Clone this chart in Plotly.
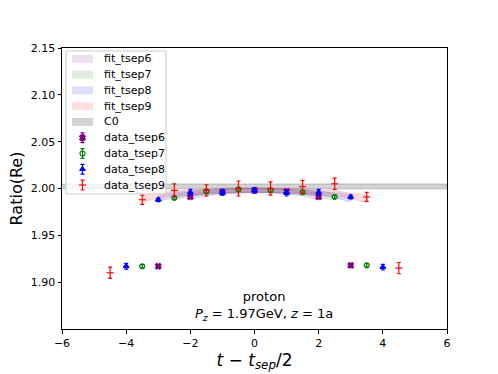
import plotly.graph_objects as go

# data points: t - tsep/2, value, error
x6 = [-3, -2, -1, 0, 1, 2, 3]
y6 = [1.917, 1.991, 1.996, 1.998, 1.997, 1.991, 1.918]
e6 = [0.0015, 0.0015, 0.0015, 0.0015, 0.0015, 0.0015, 0.0015]

x7 = [-3.5, -2.5, -1.5, -0.5, 0.5, 1.5, 2.5, 3.5]
y7 = [1.917, 1.990, 1.997, 1.999, 1.998, 1.996, 1.991, 1.918]
e7 = [0.0017, 0.0017, 0.0017, 0.0017, 0.0017, 0.0017, 0.0017, 0.0017]

x8 = [-4, -3, -2, -1, 0, 1, 2, 3, 4]
y8 = [1.917, 1.988, 1.996, 1.996, 1.998, 1.995, 1.996, 1.991, 1.916]
e8 = [0.003, 0.002, 0.003, 0.003, 0.003, 0.003, 0.003, 0.002, 0.003]

x9 = [-4.5, -3.5, -2.5, -1.5, -0.5, 0.5, 1.5, 2.5, 3.5, 4.5]
y9 = [1.910, 1.988, 1.998, 1.998, 2.000, 2.000, 2.002, 2.005, 1.991, 1.915]
e9 = [0.006, 0.005, 0.007, 0.006, 0.008, 0.007, 0.0066, 0.006, 0.0048, 0.006]

# fit bands (centre and half width)
f6_x = [-2, -1.5, -1, -0.5, 0, 0.5, 1, 1.5, 2]
f6_m = [1.9915, 1.9945, 1.9962, 1.9972, 1.9975, 1.9972, 1.9962, 1.9945, 1.9915]
f6_e = [0.0025, 0.0024, 0.0023, 0.0023, 0.0023, 0.0023, 0.0023, 0.0024, 0.0025]

f7_x = [-2.5, -2, -1.5, -1, -0.5, 0, 0.5, 1, 1.5, 2, 2.5]
f7_m = [1.991, 1.994, 1.996, 1.9972, 1.9978, 1.998, 1.9978, 1.9972, 1.996, 1.994, 1.991]
f7_e = [0.0026, 0.0025, 0.0024, 0.0023, 0.0023, 0.0023, 0.0023, 0.0023, 0.0024, 0.0025, 0.0026]

f8_x = [-3, -2.5, -2, -1.5, -1, -0.5, 0, 0.5, 1, 1.5, 2, 2.5, 3]
f8_m = [1.9895, 1.9928, 1.995, 1.9965, 1.9975, 1.998, 1.9982, 1.998, 1.9975, 1.9965, 1.995, 1.9928, 1.9895]
f8_e = [0.0028, 0.0026, 0.0025, 0.0024, 0.0023, 0.0023, 0.0023, 0.0023, 0.0023, 0.0024, 0.0025, 0.0026, 0.0028]

f9_x = [-3.5, -3, -2.5, -2, -1.5, -1, -0.5, 0, 0.5, 1, 1.5, 2, 2.5, 3, 3.5]
f9_m = [1.9888, 1.9922, 1.9946, 1.9962, 1.9974, 1.998, 1.9984, 1.9985, 1.9984, 1.998, 1.9974, 1.9962, 1.9946, 1.9922, 1.9888]
f9_e = [0.003, 0.0028, 0.0026, 0.0025, 0.0024, 0.0024, 0.0023, 0.0023, 0.0023, 0.0024, 0.0024, 0.0025, 0.0026, 0.0028, 0.003]

c0_x = [-6, 6]
c0_val = 2.0022
c0_err = 0.0026

band_names = ["fit_tsep6", "fit_tsep7", "fit_tsep8", "fit_tsep9", "C0"]
band_fills = ["rgba(128,0,128,0.13)", "rgba(0,128,0,0.13)", "rgba(0,0,255,0.13)",
              "rgba(255,0,0,0.13)", "rgba(128,128,128,0.35)"]
data_names = ["data_tsep6", "data_tsep7", "data_tsep8", "data_tsep9"]
data_colors = ["purple", "green", "blue", "red"]
data_symbols = ["x", "circle-open", "triangle-up", "line-ew-open"]

fig = go.Figure()

bands = [(f6_x, f6_m, f6_e), (f7_x, f7_m, f7_e), (f8_x, f8_m, f8_e), (f9_x, f9_m, f9_e)]
edge_cols = ["rgba(128,0,128,0.18)", "rgba(0,128,0,0.18)", "rgba(0,0,255,0.18)", "rgba(255,0,0,0.18)"]
for (fx, fm, fe), col, ecol in zip(bands, band_fills, edge_cols):
    upper = [m + e for m, e in zip(fm, fe)]
    lower = [m - e for m, e in zip(fm, fe)]
    fig.add_trace(go.Scatter(
        x=fx + fx[::-1], y=upper + lower[::-1],
        fill="toself", fillcolor=col, mode="lines",
        line=dict(color=ecol, width=0.8, shape="spline"),
        showlegend=False, hoverinfo="skip",
    ))

fig.add_trace(go.Scatter(
    x=c0_x + c0_x[::-1],
    y=[c0_val + c0_err] * 2 + [c0_val - c0_err] * 2,
    fill="toself", fillcolor=band_fills[4],
    line=dict(color="rgba(100,100,100,0.45)", width=0.8),
    mode="lines", showlegend=False, hoverinfo="skip",
))

series = [(x6, y6, e6), (x7, y7, e7), (x8, y8, e8), (x9, y9, e9)]
for (xs, ys, es), col, sym in zip(series, data_colors, data_symbols):
    fig.add_trace(go.Scatter(
        x=xs, y=ys, mode="markers", showlegend=False,
        marker=dict(color=col, symbol=sym, size=5, line=dict(color=col, width=1.2)),
        error_y=dict(type="data", array=es, color=col, thickness=1.2, width=2),
    ))

# hand-made legend (matplotlib style) on an overlay axis in plot-fraction units
L, R, T, B = 62, 447, 48, 333


def fx_(p):
    return (p - L) / (R - L)


def fy_(p):
    return (B - p) / (B - T)


rows = [59 + 16 * i for i in range(9)]
bx0, bx1, by0, by1 = fx_(66), fx_(166), fy_(51), fy_(196)
fig.add_trace(go.Scatter(
    x=[bx0, bx1, bx1, bx0, bx0], y=[by0, by0, by1, by1, by0],
    xaxis="x2", yaxis="y2", mode="lines", fill="toself",
    fillcolor="rgba(255,255,255,0.8)", line=dict(color="#cccccc", width=1),
    showlegend=False, hoverinfo="skip",
))
for i, (name, col) in enumerate(zip(band_names, band_fills)):
    r = rows[i]
    px0, px1 = fx_(72), fx_(93)
    py0, py1 = fy_(r - 4), fy_(r + 4)
    fig.add_trace(go.Scatter(
        x=[px0, px1, px1, px0, px0], y=[py0, py0, py1, py1, py0],
        xaxis="x2", yaxis="y2", mode="none", fill="toself", fillcolor=col,
        showlegend=False, hoverinfo="skip",
    ))
for j, (name, col, sym) in enumerate(zip(data_names, data_colors, data_symbols)):
    r = rows[5 + j]
    fig.add_trace(go.Scatter(
        x=[fx_(82.5)], y=[fy_(r)], xaxis="x2", yaxis="y2", mode="markers",
        marker=dict(color=col, symbol=sym, size=5, line=dict(color=col, width=1.2)),
        error_y=dict(type="constant", value=5 / (B - T), color=col, thickness=1.2, width=2),
        showlegend=False, hoverinfo="skip",
    ))
for i, name in enumerate(band_names + data_names):
    fig.add_annotation(x=fx_(102), y=fy_(rows[i]), xref="x2", yref="y2",
                       text=name, showarrow=False, xanchor="left", yanchor="middle",
                       font=dict(size=11, color="black"))

fig.add_annotation(
    x=0.3, y=1.875, xref="x", yref="y", showarrow=False,
    text="proton<br><i>P</i><sub><i>z</i></sub> = 1.97GeV, <i>z</i> = 1a",
    font=dict(size=13, color="black"), align="center",
)

axis = dict(showline=True, linecolor="black", linewidth=1, mirror=True,
            ticks="outside", ticklen=3.5, tickcolor="black", showgrid=False,
            zeroline=False, tickfont=dict(size=11, color="black"))

fig.update_layout(
    width=498, height=374,
    margin=dict(l=62, r=51, t=48, b=41),
    plot_bgcolor="white", paper_bgcolor="white",
    font=dict(family="DejaVu Sans", color="black"),
    showlegend=False,
    xaxis2=dict(overlaying="x", range=[0, 1], visible=False, fixedrange=True),
    yaxis2=dict(overlaying="y", range=[0, 1], visible=False, fixedrange=True),
    xaxis=dict(range=[-6, 6], tickvals=[-6, -4, -2, 0, 2, 4, 6],
               ticktext=["\u22126", "\u22124", "\u22122", "0", "2", "4", "6"],
               title=dict(text="<i>t</i> \u2212 <i>t</i><sub><i>sep</i></sub>/2",
                          font=dict(size=17), standoff=0), **axis),
    yaxis=dict(range=[1.85, 2.15],
               tickvals=[1.90, 1.95, 2.00, 2.05, 2.10, 2.15],
               ticktext=["1.90", "1.95", "2.00", "2.05", "2.10", "2.15"],
               title=dict(text="Ratio(Re)", font=dict(size=16), standoff=4), **axis),
)

fig.write_html("out.html", config={"displayModeBar": False},
               post_script="document.body.style.margin='0';")
